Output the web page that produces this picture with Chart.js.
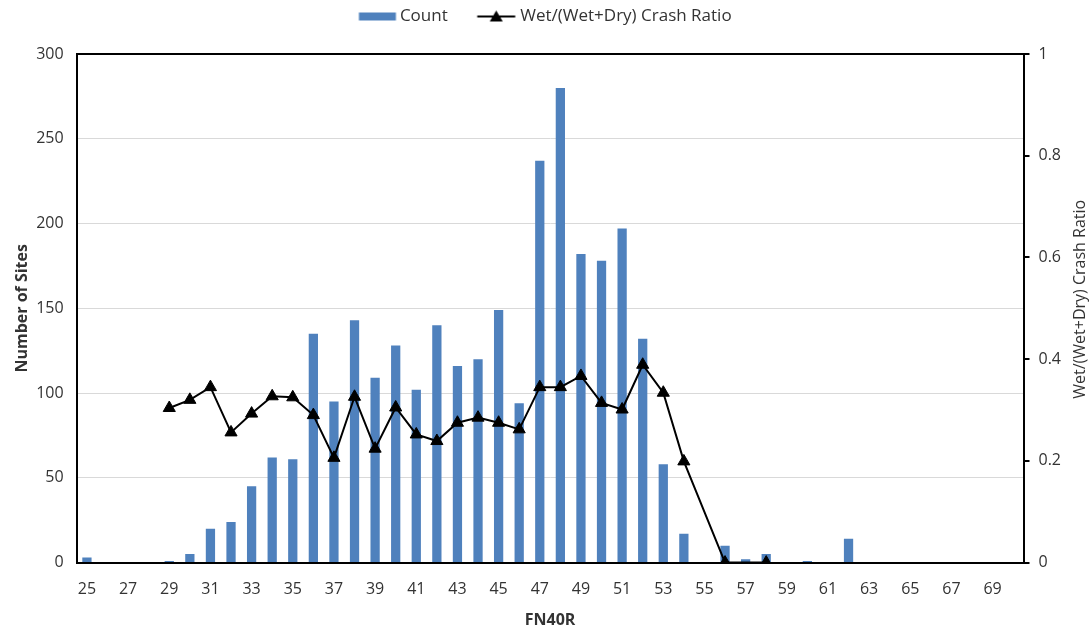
<!DOCTYPE html>
<html>
<head>
<meta charset="utf-8">
<script src="https://cdn.jsdelivr.net/npm/chart.js@4/dist/chart.umd.min.js"></script>
<style>
  html, body { margin: 0; padding: 0; background: #fff; }
  #wrap { width: 1091px; height: 628px; }
</style>
</head>
<body>
<div id="wrap"><canvas id="chart-fn40r"></canvas></div>
<script>
//data
const fn40r = [];
for (let v = 25; v <= 70; v++) fn40r.push(String(v));

const counts = [3, 0, 0, 0, 1, 5, 20, 24, 45, 62, 61, 135, 95, 143, 109, 128, 102, 140, 116, 120,
                149, 94, 237, 280, 182, 178, 197, 132, 58, 17, 0, 10, 2, 5, 0, 1, 0, 14, 0, 0,
                0, 0, 0, 0, 0, 0];

const wetRatio = [null, null, null, null, 0.304, 0.32, 0.345, 0.256, 0.293, 0.327, 0.325, 0.29, 0.206, 0.326, 0.224, 0.305,
                  0.252, 0.239, 0.275, 0.285, 0.275, 0.262, 0.345, 0.345, 0.367, 0.314, 0.301, 0.389, 0.334, 0.199,
                  null, 0, null, 0, null, null, null, null, null, null, null, null, null, null, null, null];

const leftTicks = [0, 50, 100, 150, 200, 250, 300];
const rightTicks = [0, 0.2, 0.4, 0.6, 0.8, 1];

const BLUE = '#4F81BD';
const TEXT = '#333';
const FONT = "'Open Sans', sans-serif";

//legend symbols (drawn wider than the legend box so the gaps look like the original)
function legendBox() {
    const c = document.createElement('canvas');
    c.width = 60; c.height = 12;
    const g = c.getContext('2d');
    g.fillStyle = BLUE;
    g.fillRect(19.5, 2, 37, 8);
    return c;
}
function legendLine() {
    const c = document.createElement('canvas');
    c.width = 60; c.height = 14;
    const g = c.getContext('2d');
    g.strokeStyle = '#000';
    g.lineWidth = 2;
    g.beginPath(); g.moveTo(17.5, 7); g.lineTo(55.5, 7); g.stroke();
    g.fillStyle = '#000';
    g.beginPath(); g.moveTo(36.5, 1); g.lineTo(43, 12); g.lineTo(30, 12); g.closePath(); g.fill();
    return c;
}
const legendIcons = [legendBox(), legendLine()];

//extra room under the legend
const legendMargin = {
    id: 'legendMargin',
    beforeInit(chart) {
        const fit = chart.legend.fit;
        chart.legend.fit = function () {
            fit.call(this);
            this.height += 19;
        };
    }
};

//right title drawn bottom-to-top like the left one
const rightTitle = {
    id: 'rightTitle',
    afterDraw(chart) {
        const g = chart.ctx;
        const a = chart.chartArea;
        g.save();
        g.translate(1080, (a.top + a.bottom) / 2 - 9);
        g.rotate(-Math.PI / 2);
        g.font = '16px ' + FONT;
        g.fillStyle = TEXT;
        g.textAlign = 'center';
        g.textBaseline = 'middle';
        g.fillText('Wet/(Wet+Dry) Crash Ratio', 0, 0);
        g.restore();
    }
};

const config = {
    type: 'bar',
    data: {
        labels: fn40r,
        datasets: [
            {
                type: 'line',
                label: 'Wet/(Wet+Dry) Crash Ratio',
                data: wetRatio,
                yAxisID: 'y1',
                borderColor: '#000',
                backgroundColor: '#000',
                borderWidth: 2,
                pointStyle: 'triangle',
                pointRadius: 7,
                pointBorderWidth: 1,
                spanGaps: true,
                tension: 0,
                order: 1
            },
            {
                label: 'Count',
                data: counts,
                yAxisID: 'y',
                backgroundColor: BLUE,
                barPercentage: 0.45,
                categoryPercentage: 1,
                order: 2
            }
        ]
    },
    options: {
        responsive: true,
        maintainAspectRatio: false,
        animation: false,
        layout: { padding: { top: -12, right: 21, left: 9, bottom: -2 } },
        plugins: {
            legend: {
                position: 'top',
                labels: {
                    usePointStyle: true,
                    pointStyleWidth: 44,
                    color: TEXT,
                    font: { family: FONT, size: 17 },
                    padding: 20,
                    generateLabels(chart) {
                        return [
                            { text: 'Count', pointStyle: legendIcons[0], datasetIndex: 1, fontColor: TEXT, lineWidth: 0, hidden: false },
                            { text: 'Wet/(Wet+Dry) Crash Ratio', pointStyle: legendIcons[1], datasetIndex: 0, fontColor: TEXT, lineWidth: 0, hidden: false }
                        ];
                    }
                }
            },
            tooltip: { enabled: false }
        },
        scales: {
            x: {
                grid: { display: false },
                border: { color: '#000', width: 2 },
                ticks: {
                    autoSkip: false,
                    maxRotation: 0,
                    padding: 9,
                    color: TEXT,
                    font: { family: FONT, size: 16 },
                    callback: (v, i) => (i % 2 === 0 ? fn40r[i] : '')
                },
                title: {
                    display: true,
                    text: 'FN40R',
                    color: TEXT,
                    font: { family: FONT, size: 16, weight: 'bold' },
                    padding: { top: 3, bottom: 0 }
                }
            },
            y: {
                position: 'left',
                min: 0,
                max: 300,
                afterBuildTicks: s => { s.ticks = leftTicks.map(v => ({ value: v })); },
                grid: {
                    color: c => (c.tick && c.tick.value === 300 ? '#000' : '#D9D9D9'),
                    lineWidth: c => (c.tick && c.tick.value === 300 ? 2 : 1),
                    drawTicks: false
                },
                border: { color: '#000', width: 2 },
                ticks: {
                    color: TEXT,
                    padding: 13,
                    font: { family: FONT, size: 16 }
                },
                title: {
                    display: true,
                    text: 'Number of Sites',
                    color: TEXT,
                    font: { family: FONT, size: 16, weight: 'bold' },
                    padding: { top: 4, bottom: -9 }
                }
            },
            y1: {
                position: 'right',
                min: 0,
                max: 1,
                afterBuildTicks: s => { s.ticks = rightTicks.map(v => ({ value: v })); },
                grid: { drawOnChartArea: false, color: '#000', tickLength: 6, lineWidth: 2 },
                border: { color: '#000', width: 2 },
                ticks: {
                    color: TEXT,
                    padding: 9,
                    font: { family: FONT, size: 16 },
                    callback: v => String(v)
                }
            }
        }
    },
    plugins: [legendMargin, rightTitle]
};

new Chart(document.getElementById('chart-fn40r'), config);
</script>
</body>
</html>
